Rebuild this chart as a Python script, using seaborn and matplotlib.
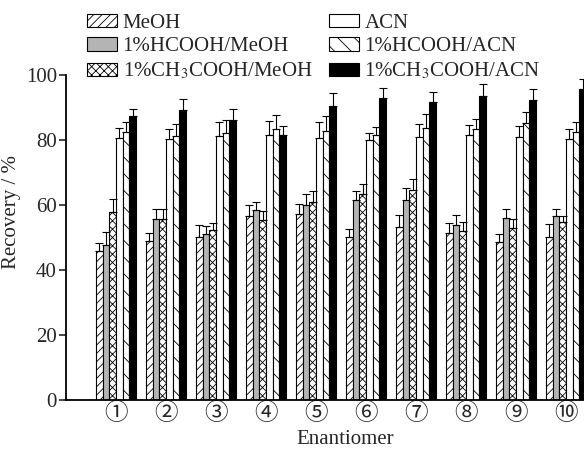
import numpy as np
import pandas as pd
import matplotlib
matplotlib.use("Agg")
import matplotlib.pyplot as plt
from matplotlib.patches import Patch
import seaborn as sns

enantiomers = ["①", "②", "③", "④", "⑤", "⑥", "⑦", "⑧", "⑨", "⑩"]
solvents = ["MeOH", "1%HCOOH/MeOH", "1%CH$_3$COOH/MeOH",
            "ACN", "1%HCOOH/ACN", "1%CH$_3$COOH/ACN"]

meoh = [45.9, 49.0, 50.0, 56.6, 57.1, 50.3, 53.1, 51.5, 48.5, 50.3]
hcooh_meoh = [47.7, 55.7, 51.2, 58.5, 59.9, 61.4, 61.5, 53.7, 55.9, 56.5]
ch3cooh_meoh = [57.9, 55.7, 52.2, 55.5, 60.9, 63.5, 64.5, 51.9, 52.8, 54.7]
acn = [80.5, 80.4, 81.1, 81.5, 80.5, 79.9, 80.8, 81.5, 81.0, 80.4]
hcooh_acn = [82.6, 81.1, 82.3, 83.5, 82.7, 81.6, 83.8, 83.3, 85.1, 82.5]
ch3cooh_acn = [87.5, 89.2, 86.1, 81.4, 90.6, 92.8, 91.8, 93.5, 92.2, 95.6]

err_meoh = [2.4, 2.3, 3.7, 3.4, 3.1, 2.3, 3.7, 3.0, 2.5, 3.9]
err_hcooh_meoh = [4.0, 3.0, 2.2, 2.4, 3.6, 2.9, 3.7, 3.1, 3.0, 2.2]
err_ch3cooh_meoh = [3.9, 3.0, 2.3, 2.5, 3.5, 2.9, 3.6, 3.0, 2.9, 2.0]
err_acn = [3.1, 3.1, 4.5, 4.3, 4.9, 2.1, 4.0, 3.0, 3.4, 2.9]
err_hcooh_acn = [3.0, 3.9, 3.9, 4.2, 4.8, 2.5, 4.2, 3.3, 3.6, 3.0]
err_ch3cooh_acn = [2.1, 3.5, 3.3, 3.0, 3.8, 3.3, 2.9, 3.6, 3.6, 3.2]

values = [meoh, hcooh_meoh, ch3cooh_meoh, acn, hcooh_acn, ch3cooh_acn]
errors = [err_meoh, err_hcooh_meoh, err_ch3cooh_meoh, err_acn, err_hcooh_acn, err_ch3cooh_acn]

rows = []
for s, vals in zip(solvents, values):
    for e, v in zip(enantiomers, vals):
        rows.append({"Enantiomer": e, "Solvent": s, "Recovery": v})
df = pd.DataFrame(rows)

facecolors = ["white", "#b4b4b4", "white", "white", "white", "black"]
hatches = ["////", None, "xxxx", None, "\\\\", None]

sns.set_style("ticks")
plt.rcParams["font.family"] = ["Liberation Serif", "Noto Sans CJK SC", "DejaVu Sans"]
plt.rcParams["mathtext.fontset"] = "stix"
plt.rcParams["hatch.linewidth"] = 0.6
plt.rcParams["hatch.color"] = "black"

fig = plt.figure(figsize=(5.84, 4.49), dpi=100)
ax = fig.add_axes([66 / 584, 49 / 449, (591 - 66) / 584, 325 / 449])

sns.barplot(data=df, x="Enantiomer", y="Recovery", hue="Solvent",
            order=enantiomers, hue_order=solvents,
            palette=dict(zip(solvents, facecolors)), saturation=1,
            errorbar=None, width=0.806, edgecolor="black", linewidth=0.8,
            legend=False, ax=ax)

for cont, h, errs in zip(ax.containers, hatches, errors):
    xs, ys = [], []
    for bar in cont.patches:
        if h:
            bar.set_hatch(h)
        xs.append(bar.get_x() + bar.get_width() / 2)
        ys.append(bar.get_height())
    ax.errorbar(xs, ys, yerr=[np.zeros(len(errs)), errs], fmt="none",
                ecolor="black", elinewidth=0.8, capsize=2.8, capthick=0.8,
                zorder=1)

ax.set_xlim(-1, 9.5)
ax.set_ylim(0, 100)
ax.set_yticks([0, 20, 40, 60, 80, 100])
ax.set_xlabel("Enantiomer", fontsize=15)
ax.set_ylabel("Recovery / %", fontsize=15)
ax.xaxis.set_label_coords((345 - 66) / 525, -0.092)
ax.yaxis.set_label_coords(-0.085, (400 - 212) / 325)
ax.tick_params(axis="y", direction="out", length=5, width=1.2, labelsize=15, pad=1.5)
ax.tick_params(axis="x", length=0, labelsize=17, pad=2)
for s in ["top", "right"]:
    ax.spines[s].set_visible(False)
for s in ["left", "bottom"]:
    ax.spines[s].set_linewidth(1.3)
    ax.spines[s].set_color("black")

handles = [Patch(facecolor=fc, edgecolor="black", hatch=h, linewidth=0.8)
           for fc, h in zip(facecolors, hatches)]
fig.legend(handles, solvents, loc="upper left", bbox_to_anchor=(0.135, 0.988),
           ncol=2, frameon=False, fontsize=15, handlelength=1.45,
           handleheight=0.6, handletextpad=0.25, labelspacing=0.22,
           columnspacing=0.8, borderaxespad=0)

fig.savefig("out.png", dpi=100)
